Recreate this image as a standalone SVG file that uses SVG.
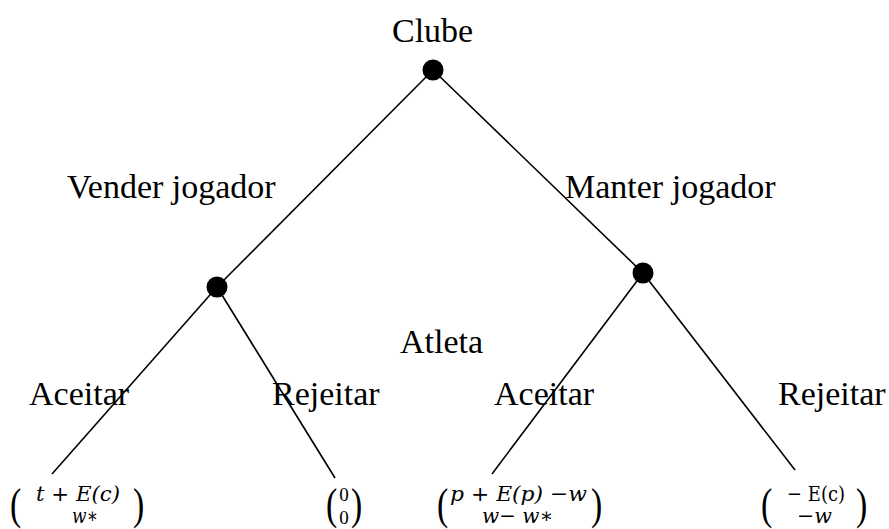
<svg xmlns="http://www.w3.org/2000/svg" width="889" height="529" viewBox="0 0 889 529">
<style>
.lbl{font-family:"Liberation Serif","Times New Roman",serif;font-size:34px;fill:#000}
.m{font-family:"DejaVu Serif","Liberation Serif",serif;font-style:italic;font-size:21px;fill:#000}
.u{font-family:"DejaVu Serif","Liberation Serif",serif;font-style:normal;font-size:21px;fill:#000}
.z{font-family:"Liberation Serif","Times New Roman",serif;font-size:19px;fill:#000}
.p{font-family:"Liberation Serif","Times New Roman",serif;font-size:45px;fill:#000}
.dot{fill:#000}
.edge{stroke:#000;stroke-width:1.6;fill:none}
</style>
<rect width="889" height="529" fill="#fff"/>
<g id="connectors">
<line class="edge" x1="433" y1="70" x2="217" y2="287"/>
<line class="edge" x1="433" y1="70" x2="643" y2="273"/>
<line class="edge" x1="217" y1="287" x2="52" y2="474"/>
<line class="edge" x1="217" y1="287" x2="335" y2="478"/>
<line class="edge" x1="643" y1="273" x2="492" y2="474"/>
<line class="edge" x1="643" y1="273" x2="795" y2="470"/>
</g>
<g id="clube">
<text class="lbl" x="392" y="42">Clube</text>
<circle class="dot" cx="433" cy="70" r="10.5"/>
</g>
<g id="atleta-vender">
<circle class="dot" cx="217" cy="287" r="10.5"/>
</g>
<g id="atleta-manter">
<circle class="dot" cx="643" cy="273" r="10.5"/>
</g>
<g id="labels">
<text class="lbl" x="67" y="198">Vender jogador</text>
<text class="lbl" x="565" y="198">Manter jogador</text>
<text class="lbl" x="400" y="353">Atleta</text>
<text class="lbl" x="29" y="405">Aceitar</text>
<text class="lbl" x="272" y="405">Rejeitar</text>
<text class="lbl" x="494" y="405">Aceitar</text>
<text class="lbl" x="778" y="405">Rejeitar</text>
</g>
<g id="payoff1">
<text class="p" transform="translate(10,519) scale(0.75,1)">(</text>
<text class="m" x="36" y="501" textLength="84" lengthAdjust="spacingAndGlyphs">t + E(c)</text>
<text class="m" x="72" y="523" textLength="26" lengthAdjust="spacingAndGlyphs">w∗</text>
<text class="p" transform="translate(133,519) scale(0.75,1)">)</text>
</g>
<g id="payoff2">
<text class="p" transform="translate(326,519) scale(0.75,1)">(</text>
<text class="z" x="344" y="501" text-anchor="middle">0</text>
<text class="z" x="344" y="524" text-anchor="middle">0</text>
<text class="p" transform="translate(351,519) scale(0.75,1)">)</text>
</g>
<g id="payoff3">
<text class="p" transform="translate(437,519) scale(0.75,1)">(</text>
<text class="m" x="450" y="501" textLength="137" lengthAdjust="spacingAndGlyphs">p + E(p) −w</text>
<text class="m" x="482" y="523" textLength="71" lengthAdjust="spacingAndGlyphs">w− w∗</text>
<text class="p" transform="translate(591,519) scale(0.75,1)">)</text>
</g>
<g id="payoff4">
<text class="p" transform="translate(761,519) scale(0.75,1)">(</text>
<text class="u" x="787" y="501" textLength="58" lengthAdjust="spacingAndGlyphs">− E(c)</text>
<text class="m" x="797" y="523" textLength="35" lengthAdjust="spacingAndGlyphs">−w</text>
<text class="p" transform="translate(856,519) scale(0.75,1)">)</text>
</g>
</svg>
